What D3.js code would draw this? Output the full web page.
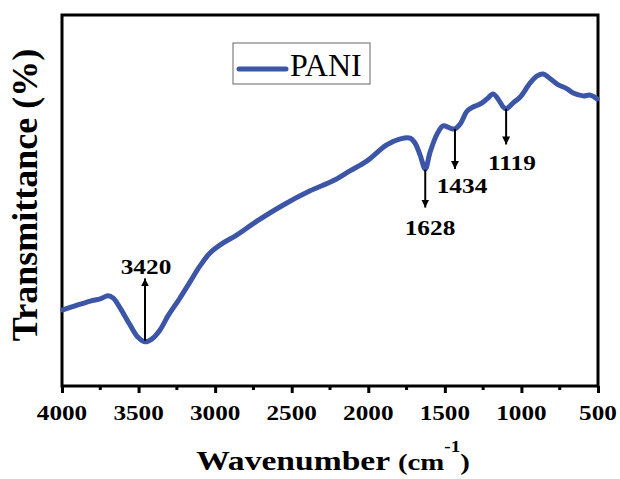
<!DOCTYPE html>
<html><head><meta charset="utf-8">
<script src="https://cdn.jsdelivr.net/npm/d3@7"></script>
<style>body{margin:0;background:#fff}svg{display:block}</style>
</head><body>
<svg id="c" width="620" height="479"></svg>
<script>
// Wavenumber (cm-1) and transmittance (arbitrary %)
const wavenumber = [3995,3915,3815,3750,3700,3665,3620,3555,3505,3458,3412,3360,3308,3230,3165,3100,3035,2950,2870,2725,2555,2380,2230,2120,2010,1880,1790,1727,1695,1662,1628,1596,1551,1511,1466,1434,1400,1355,1316,1270,1224,1185,1139,1119,1100,1054,1008,943,897,858,826,767,702,662,597,551,506];
const transmittance = [20.5,21.6,22.9,23.5,24.3,23.7,21.0,16.4,13.2,11.9,12.7,15.1,18.9,23.7,28.0,32.3,35.8,38.5,40.4,44.5,48.8,52.6,55.3,58.0,60.6,65.0,66.6,66.8,65.5,62.3,58.5,63.1,67.9,70.1,69.5,69.3,70.6,74.1,75.2,76.0,77.4,78.7,76.5,75.2,74.7,76.3,77.9,81.7,83.6,84.1,83.3,81.4,80.1,79.0,78.2,78.4,77.4];
const xTicks = [4000,3500,3000,2500,2000,1500,1000,500];
const minorTicks = [3750,3250,2750,2250,1750,1250,750];
const seriesName = "PANI";
// peak annotations: label, arrow position (wavenumber), arrow start/end (transmittance)
const peakLabels = ["3420","1628","1434","1119"];
const peakPos = [3458,1628,1434,1100];
const peakFrom = [12.2,58.3,69.3,74.7];
const peakTo = [29.0,48.1,58.5,65.1];

const svg = d3.select("#c");
const L=62, R=598, T=15, B=386;
const x = d3.scaleLinear().domain([4000,500]).range([L,R]);
const y = d3.scaleLinear().domain([0,100]).range([B,T]);
const serif = "'Liberation Serif','Times New Roman',serif";

svg.append("defs").append("marker").attr("id","ah").attr("viewBox","0 0 10 10")
  .attr("refX",10).attr("refY",5).attr("markerWidth",8).attr("markerHeight",12)
  .attr("markerUnits","userSpaceOnUse").attr("orient","auto")
  .append("path").attr("d","M0,0 L10,5 L0,10 z").attr("fill","#000");

// frame
svg.append("rect").attr("x",L).attr("y",T).attr("width",R-L).attr("height",B-T)
  .attr("fill","none").attr("stroke","#000").attr("stroke-width",3);

// x axis
const gx = svg.append("g").attr("transform",`translate(0,${B})`);
gx.call(d3.axisBottom(x).tickValues(xTicks).tickSize(7).tickFormat(""));
gx.select(".domain").remove();
gx.selectAll(".tick line").attr("stroke-width",3);
gx.selectAll(".minor").data(minorTicks).join("line").attr("class","minor")
  .attr("x1",d=>x(d)).attr("x2",d=>x(d)).attr("y1",0).attr("y2",4).attr("stroke","#000").attr("stroke-width",3);
gx.selectAll(".tl").data(xTicks).join("text").attr("class","tl")
  .attr("transform",d=>`translate(${x(d)},34) scale(1.2,1)`)
  .attr("fill","#000").attr("text-anchor","middle").attr("font-family",serif).attr("font-weight","bold")
  .attr("font-size",21).text(d=>d);

// line
svg.append("path").datum(wavenumber.map((w,i)=>[w,transmittance[i]]))
  .attr("fill","none").attr("stroke","#3c55a6").attr("stroke-width",5)
  .attr("stroke-linejoin","round").attr("stroke-linecap","round")
  .attr("d",d3.line().x(d=>x(d[0])).y(d=>y(d[1])).curve(d3.curveCatmullRom));

// annotations
peakLabels.forEach((lab,i)=>{
  svg.append("line").attr("x1",x(peakPos[i])).attr("x2",x(peakPos[i]))
    .attr("y1",y(peakFrom[i])).attr("y2",y(peakTo[i]))
    .attr("stroke","#000").attr("stroke-width",2).attr("marker-end","url(#ah)");
});
const labPos = [[146,274],[430,235],[462,193],[512,170]];
peakLabels.forEach((lab,i)=>{
  svg.append("text").attr("transform",`translate(${labPos[i][0]},${labPos[i][1]}) scale(1.15,1)`)
    .attr("text-anchor","middle").attr("font-family",serif).attr("font-weight","bold")
    .attr("font-size",22).text(lab);
});

// legend
svg.append("rect").attr("x",233).attr("y",43).attr("width",137).attr("height",41)
  .attr("fill","#fff").attr("stroke","#666").attr("stroke-width",1);
svg.append("line").attr("x1",239).attr("x2",286).attr("y1",69).attr("y2",69)
  .attr("stroke","#3c55a6").attr("stroke-width",5).attr("stroke-linecap","round");
svg.append("text").attr("x",290).attr("y",76).attr("font-family",serif)
  .attr("font-size",32).text(seriesName);

// axis titles
const xt = svg.append("text").attr("transform","translate(333,470) scale(1.2,1)")
  .attr("text-anchor","middle").attr("font-family",serif).attr("font-weight","bold").attr("font-size",28);
xt.append("tspan").text("Wavenumber ");
xt.append("tspan").attr("font-size",24).text("(cm");
xt.append("tspan").attr("font-size",16).attr("dy",-18).text("-1");
xt.append("tspan").attr("font-size",24).attr("dy",18).text(")");

svg.append("text").attr("transform","translate(37,195) rotate(-90)")
  .attr("text-anchor","middle").attr("font-family",serif).attr("font-weight","bold")
  .attr("font-size",36).text("Transmittance (%)");
</script>
</body></html>
